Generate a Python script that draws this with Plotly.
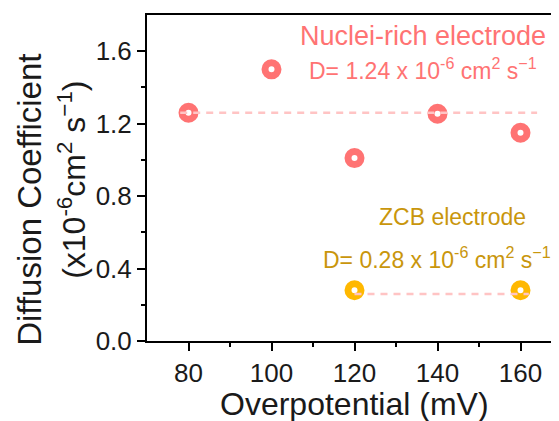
import plotly.graph_objects as go

overpotential_nuclei = [80, 100, 120, 140, 160]
diff_nuclei = [1.26, 1.50, 1.01, 1.255, 1.15]
overpotential_zcb = [120, 160]
diff_zcb = [0.28, 0.28]
nuclei_avg_x = [78, 164]
nuclei_avg_y = [1.26, 1.26]
zcb_avg_x = [120, 162]
zcb_avg_y = [0.26, 0.26]
x_ticks = [80, 100, 120, 140, 160]
y_ticks = [0.0, 0.4, 0.8, 1.2, 1.6]

red = "#FF7373"
gold = "#FFB800"
gold_text = "#C9960C"
pink = "#FFC4C4"

fig = go.Figure()
fig.add_trace(go.Scatter(x=overpotential_nuclei, y=diff_nuclei, mode="markers",
                         marker=dict(symbol="circle-open", size=13, color=red, line=dict(width=7, color=red))))
fig.add_trace(go.Scatter(x=overpotential_zcb, y=diff_zcb, mode="markers",
                         marker=dict(symbol="circle-open", size=13, color=gold, line=dict(width=7, color=gold))))
fig.add_trace(go.Scatter(x=nuclei_avg_x, y=nuclei_avg_y, mode="lines",
                         line=dict(color=pink, width=2.5, dash="7px,6px")))
fig.add_trace(go.Scatter(x=zcb_avg_x, y=zcb_avg_y, mode="lines",
                         line=dict(color=pink, width=2.5, dash="7px,6px")))

font = "Arial, Liberation Sans, sans-serif"
fig.update_layout(
    width=559, height=421, showlegend=False,
    margin=dict(l=139, r=5, t=7, b=88),
    plot_bgcolor="white", paper_bgcolor="white",
    font=dict(family=font, color="#1a1a1a", size=26),
    xaxis=dict(range=[70, 170], tickvals=x_ticks, showline=True, linecolor="black",
               linewidth=2, mirror=True, ticks="outside", ticklen=8, tickwidth=2, tickcolor="black",
               showgrid=False, zeroline=False, automargin=False,
               minor=dict(tickvals=[90, 110, 130, 150], ticks="outside", ticklen=4, tickwidth=2, tickcolor="black")),
    yaxis=dict(range=[0, 1.8], tickvals=y_ticks, tickformat=".1f", showline=True,
               linecolor="black", linewidth=2, ticks="outside", ticklen=8, tickwidth=2, tickcolor="black",
               showgrid=False, zeroline=False, automargin=False,
               minor=dict(tickvals=[0.2, 0.6, 1.0, 1.4], ticks="outside", ticklen=4, tickwidth=2, tickcolor="black")),
)

fig.add_annotation(text="Diffusion Coefficient", xref="paper", yref="paper", x=-0.282, y=0.433,
                   textangle=-90, showarrow=False, font=dict(size=33), xanchor="center", yanchor="middle")
fig.add_annotation(text="(x10<sup>-6</sup>cm<sup>2</sup> s<sup>\u22121</sup>)", xref="paper", yref="paper",
                   x=-0.181, y=0.494, textangle=-90, showarrow=False, font=dict(size=32),
                   xanchor="center", yanchor="middle")
fig.add_annotation(text="Overpotential (mV)", xref="paper", yref="paper", x=0.501, y=-0.193,
                   showarrow=False, font=dict(size=32), xanchor="center", yanchor="middle")

fig.add_annotation(text="Nuclei-rich electrode", xref="x", yref="y", x=136.5, y=1.683, showarrow=False,
                   font=dict(size=27, color=red))
fig.add_annotation(text="D= 1.24 x 10<sup>-6</sup> cm<sup>2</sup> s<sup>\u22121</sup>", xref="x", yref="y",
                   x=136.5, y=1.50, showarrow=False, font=dict(size=23, color=red))
fig.add_annotation(text="ZCB electrode", xref="x", yref="y", x=143.5, y=0.684, showarrow=False,
                   font=dict(size=23, color=gold_text))
fig.add_annotation(text="D= 0.28 x 10<sup>-6</sup> cm<sup>2</sup> s<sup>\u22121</sup>", xref="x", yref="y",
                   x=139.9, y=0.458, showarrow=False, font=dict(size=23, color=gold_text))

fig.write_html("out.html")
